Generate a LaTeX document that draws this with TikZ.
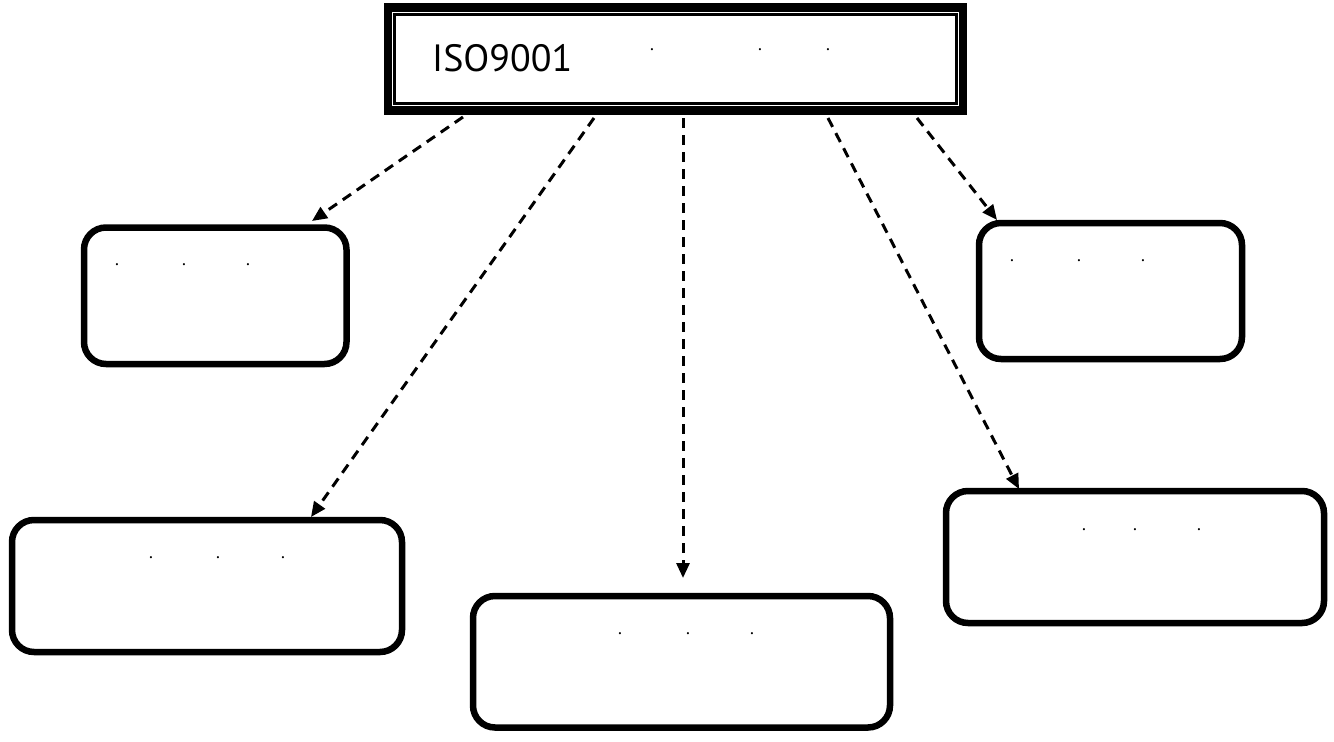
\documentclass[tikz,border=0pt]{standalone}
\usepackage{fontspec}
\setmainfont{PT Sans}
\usetikzlibrary{arrows.meta}
\begin{document}
\begin{tikzpicture}[x=1pt,y=-1pt,
  framebox/.style={draw, line width=8.5pt, rectangle, inner sep=0pt},
  roundbox/.style={draw, line width=6.5pt, rounded corners=22pt, rectangle, inner sep=0pt},
  link/.style={line width=3pt, dash pattern=on 10pt off 7pt, -{Triangle[length=15pt,width=13pt]}},
  dotmark/.style={inner sep=0pt, anchor=base, font=\fontsize{18}{18}\selectfont},
  label/.style={inner sep=0pt, anchor=base west, font=\fontsize{38}{40}\selectfont}]
\useasboundingbox (0,0) rectangle (1334,742);
% top frame
\node[framebox, minimum width=575pt, minimum height=103pt] (top) at (675.5,59) {};
\draw[line width=3pt] ([shift={(11pt,-11pt)}]top.north west) rectangle ([shift={(-11pt,11pt)}]top.south east);
\node[label] (t0) at (432,71) {ISO9001};
\node[dotmark] (t1) at (652,50) {.};
\node[dotmark] (t2) at (760,50) {.};
\node[dotmark] (t3) at (828,50) {.};
% boxes
\node[roundbox, minimum width=262.5pt, minimum height=136.5pt] (b1) at (215.25,295.75) {};
\node[roundbox, minimum width=263pt, minimum height=136pt] (b2) at (1110.5,291) {};
\node[roundbox, minimum width=390pt, minimum height=132pt] (b3) at (207,586) {};
\node[roundbox, minimum width=417pt, minimum height=131.5pt] (b4) at (681.5,661.75) {};
\node[roundbox, minimum width=378pt, minimum height=132pt] (b5) at (1135,557) {};
\node[dotmark] (d11) at (117,265) {.};
\node[dotmark] (d12) at (184,265) {.};
\node[dotmark] (d13) at (248,265) {.};
\node[dotmark] (d21) at (1012,261) {.};
\node[dotmark] (d22) at (1079,261) {.};
\node[dotmark] (d23) at (1143,261) {.};
\node[dotmark] (d31) at (151,558) {.};
\node[dotmark] (d32) at (218,558) {.};
\node[dotmark] (d33) at (283,558) {.};
\node[dotmark] (d41) at (620,634) {.};
\node[dotmark] (d42) at (688,634) {.};
\node[dotmark] (d43) at (752,634) {.};
\node[dotmark] (d51) at (1084,530) {.};
\node[dotmark] (d52) at (1135,530) {.};
\node[dotmark] (d53) at (1199,530) {.};
% connector ends
\coordinate (s1) at (463,117);
\coordinate (e1) at (312,221);
\coordinate (s2) at (594,118);
\coordinate (e2) at (311,517);
\coordinate (s3) at (683,118);
\coordinate (e3) at (683,578);
\coordinate (s4) at (828,118);
\coordinate (e4) at (1019,489);
\coordinate (s5) at (917,118);
\coordinate (e5) at (997,220);
\draw[link] (s1) -- (e1);
\draw[link] (s2) -- (e2);
\draw[link] (s3) -- (e3);
\draw[link] (s4) -- (e4);
\draw[link] (s5) -- (e5);
\end{tikzpicture}
\end{document}
